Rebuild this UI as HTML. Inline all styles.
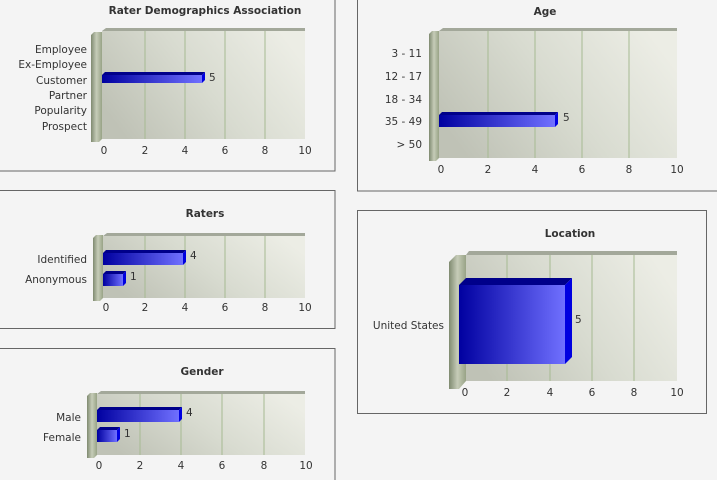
<!DOCTYPE html>
<html><head><meta charset="utf-8"><style>
html,body{margin:0;padding:0;background:#f4f4f4;}
svg{display:block;font-family:"DejaVu Sans","Liberation Sans",sans-serif;font-size:10.5px;fill:#333;}
.t{font-weight:bold;font-size:10.5px;text-anchor:middle;fill:#333}
.c{text-anchor:end}
.k{text-anchor:middle}
.g{stroke:#a6ba92;stroke-width:1}
</style></head><body>
<svg width="717" height="480" viewBox="0 0 717 480">
<defs>
<linearGradient id="bg" x1="0" y1="0.7" x2="1" y2="0.3"><stop offset="0" stop-color="#bfc2b6"/><stop offset="0.5" stop-color="#d8dbd0"/><stop offset="1" stop-color="#ecede5"/></linearGradient>
<linearGradient id="wall" x1="0" y1="0" x2="1" y2="0"><stop offset="0" stop-color="#7f8a70"/><stop offset="0.5" stop-color="#c6ccb8"/><stop offset="1" stop-color="#98a386"/></linearGradient>
<linearGradient id="bar" x1="0" y1="0" x2="1" y2="0"><stop offset="0" stop-color="#0000a0"/><stop offset="1" stop-color="#7070ff"/></linearGradient>
</defs>
<rect width="717" height="480" fill="#f4f4f4"/>
<g fill="none" stroke="#666">
<rect x="-1" y="-1" width="336" height="172"/>
<rect x="-1" y="190.5" width="336" height="138"/>
<rect x="-1" y="348.5" width="336" height="140"/>
<rect x="357.5" y="-1" width="370" height="192"/>
<rect x="357.5" y="210.5" width="349" height="203"/>
</g>

<!-- Chart 1 -->
<text class="t" x="205" y="14">Rater Demographics Association</text>
<polygon points="102,31 106,28 305,28 305,31" fill="#a3a89a"/>
<rect x="102" y="31" width="203" height="108" fill="url(#bg)"/>
<g class="g"><line x1="145" y1="31" x2="145" y2="139"/><line x1="185" y1="31" x2="185" y2="139"/><line x1="225" y1="31" x2="225" y2="139"/><line x1="265" y1="31" x2="265" y2="139"/></g>
<polygon points="91,35 94,32 102,32 102,139 99,142 91,142" fill="url(#wall)"/>
<g class="k"><text x="104" y="154">0</text><text x="145" y="154">2</text><text x="185" y="154">4</text><text x="225" y="154">6</text><text x="265" y="154">8</text><text x="305" y="154">10</text></g>
<g class="c"><text x="87" y="53">Employee</text><text x="87" y="68">Ex-Employee</text><text x="87" y="84">Customer</text><text x="87" y="99">Partner</text><text x="87" y="114">Popularity</text><text x="87" y="130">Prospect</text></g>
<rect x="102" y="75" width="100" height="8" fill="url(#bar)"/>
<polygon points="102,75 105,72 205,72 202,75" fill="#00008a"/>
<polygon points="202,75 205,72 205,80 202,83" fill="#0000e0"/>
<text x="209" y="81">5</text>

<!-- Chart 2 Raters -->
<text class="t" x="205" y="217">Raters</text>
<polygon points="103,236 107,233 305,233 305,236" fill="#a3a89a"/>
<rect x="103" y="236" width="202" height="62" fill="url(#bg)"/>
<g class="g"><line x1="145" y1="236" x2="145" y2="298"/><line x1="185" y1="236" x2="185" y2="298"/><line x1="225" y1="236" x2="225" y2="298"/><line x1="265" y1="236" x2="265" y2="298"/></g>
<polygon points="93,238 96,235 103,235 103,298 100,301 93,301" fill="url(#wall)"/>
<g class="k"><text x="106" y="311">0</text><text x="145" y="311">2</text><text x="185" y="311">4</text><text x="225" y="311">6</text><text x="265" y="311">8</text><text x="305" y="311">10</text></g>
<g class="c"><text x="87" y="263">Identified</text><text x="87" y="283">Anonymous</text></g>
<rect x="103" y="253" width="80" height="12" fill="url(#bar)"/>
<polygon points="103,253 106,250 186,250 183,253" fill="#00008a"/>
<polygon points="183,253 186,250 186,262 183,265" fill="#0000e0"/>
<text x="190" y="259">4</text>
<rect x="103" y="274" width="20" height="12" fill="url(#bar)"/>
<polygon points="103,274 106,271 126,271 123,274" fill="#00008a"/>
<polygon points="123,274 126,271 126,283 123,286" fill="#0000e0"/>
<text x="130" y="280">1</text>

<!-- Chart 3 Gender -->
<text class="t" x="202" y="375">Gender</text>
<polygon points="97,394 101,391 305,391 305,394" fill="#a3a89a"/>
<rect x="97" y="394" width="208" height="61" fill="url(#bg)"/>
<g class="g"><line x1="140" y1="394" x2="140" y2="455"/><line x1="181" y1="394" x2="181" y2="455"/><line x1="222" y1="394" x2="222" y2="455"/><line x1="264" y1="394" x2="264" y2="455"/></g>
<polygon points="87,396 90,393 97,393 97,455 94,458 87,458" fill="url(#wall)"/>
<g class="k"><text x="99" y="469">0</text><text x="140" y="469">2</text><text x="181" y="469">4</text><text x="222" y="469">6</text><text x="264" y="469">8</text><text x="306" y="469">10</text></g>
<g class="c"><text x="81" y="421">Male</text><text x="81" y="441">Female</text></g>
<rect x="97" y="410" width="82" height="12" fill="url(#bar)"/>
<polygon points="97,410 100,407 182,407 179,410" fill="#00008a"/>
<polygon points="179,410 182,407 182,419 179,422" fill="#0000e0"/>
<text x="186" y="416">4</text>
<rect x="97" y="430" width="20" height="12" fill="url(#bar)"/>
<polygon points="97,430 100,427 120,427 117,430" fill="#00008a"/>
<polygon points="117,430 120,427 120,439 117,442" fill="#0000e0"/>
<text x="124" y="437">1</text>

<!-- Chart 4 Age -->
<text class="t" x="545" y="15">Age</text>
<polygon points="439,31 443,28 677,28 677,31" fill="#a3a89a"/>
<rect x="439" y="31" width="238" height="127" fill="url(#bg)"/>
<g class="g"><line x1="488" y1="31" x2="488" y2="158"/><line x1="535" y1="31" x2="535" y2="158"/><line x1="582" y1="31" x2="582" y2="158"/><line x1="629" y1="31" x2="629" y2="158"/></g>
<polygon points="429,34 432,31 439,31 439,158 436,161 429,161" fill="url(#wall)"/>
<g class="k"><text x="441" y="173">0</text><text x="488" y="173">2</text><text x="535" y="173">4</text><text x="582" y="173">6</text><text x="629" y="173">8</text><text x="677" y="173">10</text></g>
<g class="c"><text x="422" y="57">3 - 11</text><text x="422" y="80">12 - 17</text><text x="422" y="103">18 - 34</text><text x="422" y="125">35 - 49</text><text x="422" y="148">&gt; 50</text></g>
<rect x="439" y="115" width="116" height="12" fill="url(#bar)"/>
<polygon points="439,115 442,112 558,112 555,115" fill="#00008a"/>
<polygon points="555,115 558,112 558,124 555,127" fill="#0000e0"/>
<text x="563" y="121">5</text>

<!-- Chart 5 Location -->
<text class="t" x="570" y="237">Location</text>
<polygon points="466,255 469,251 677,251 677,255" fill="#a3a89a"/>
<rect x="466" y="255" width="211" height="126" fill="url(#bg)"/>
<g class="g"><line x1="507" y1="255" x2="507" y2="381"/><line x1="550" y1="255" x2="550" y2="381"/><line x1="592" y1="255" x2="592" y2="381"/><line x1="634" y1="255" x2="634" y2="381"/></g>
<polygon points="449,262 456,255 466,255 466,381 459,389 449,389" fill="url(#wall)"/>
<g class="k"><text x="465" y="396">0</text><text x="507" y="396">2</text><text x="550" y="396">4</text><text x="592" y="396">6</text><text x="634" y="396">8</text><text x="677" y="396">10</text></g>
<text class="c" x="444" y="329">United States</text>
<rect x="459" y="285" width="106" height="79" fill="url(#bar)"/>
<polygon points="459,285 466,278 572,278 565,285" fill="#00008a"/>
<polygon points="565,285 572,278 572,357 565,364" fill="#0000e0"/>
<text x="575" y="323">5</text>
</svg>
</body></html>
